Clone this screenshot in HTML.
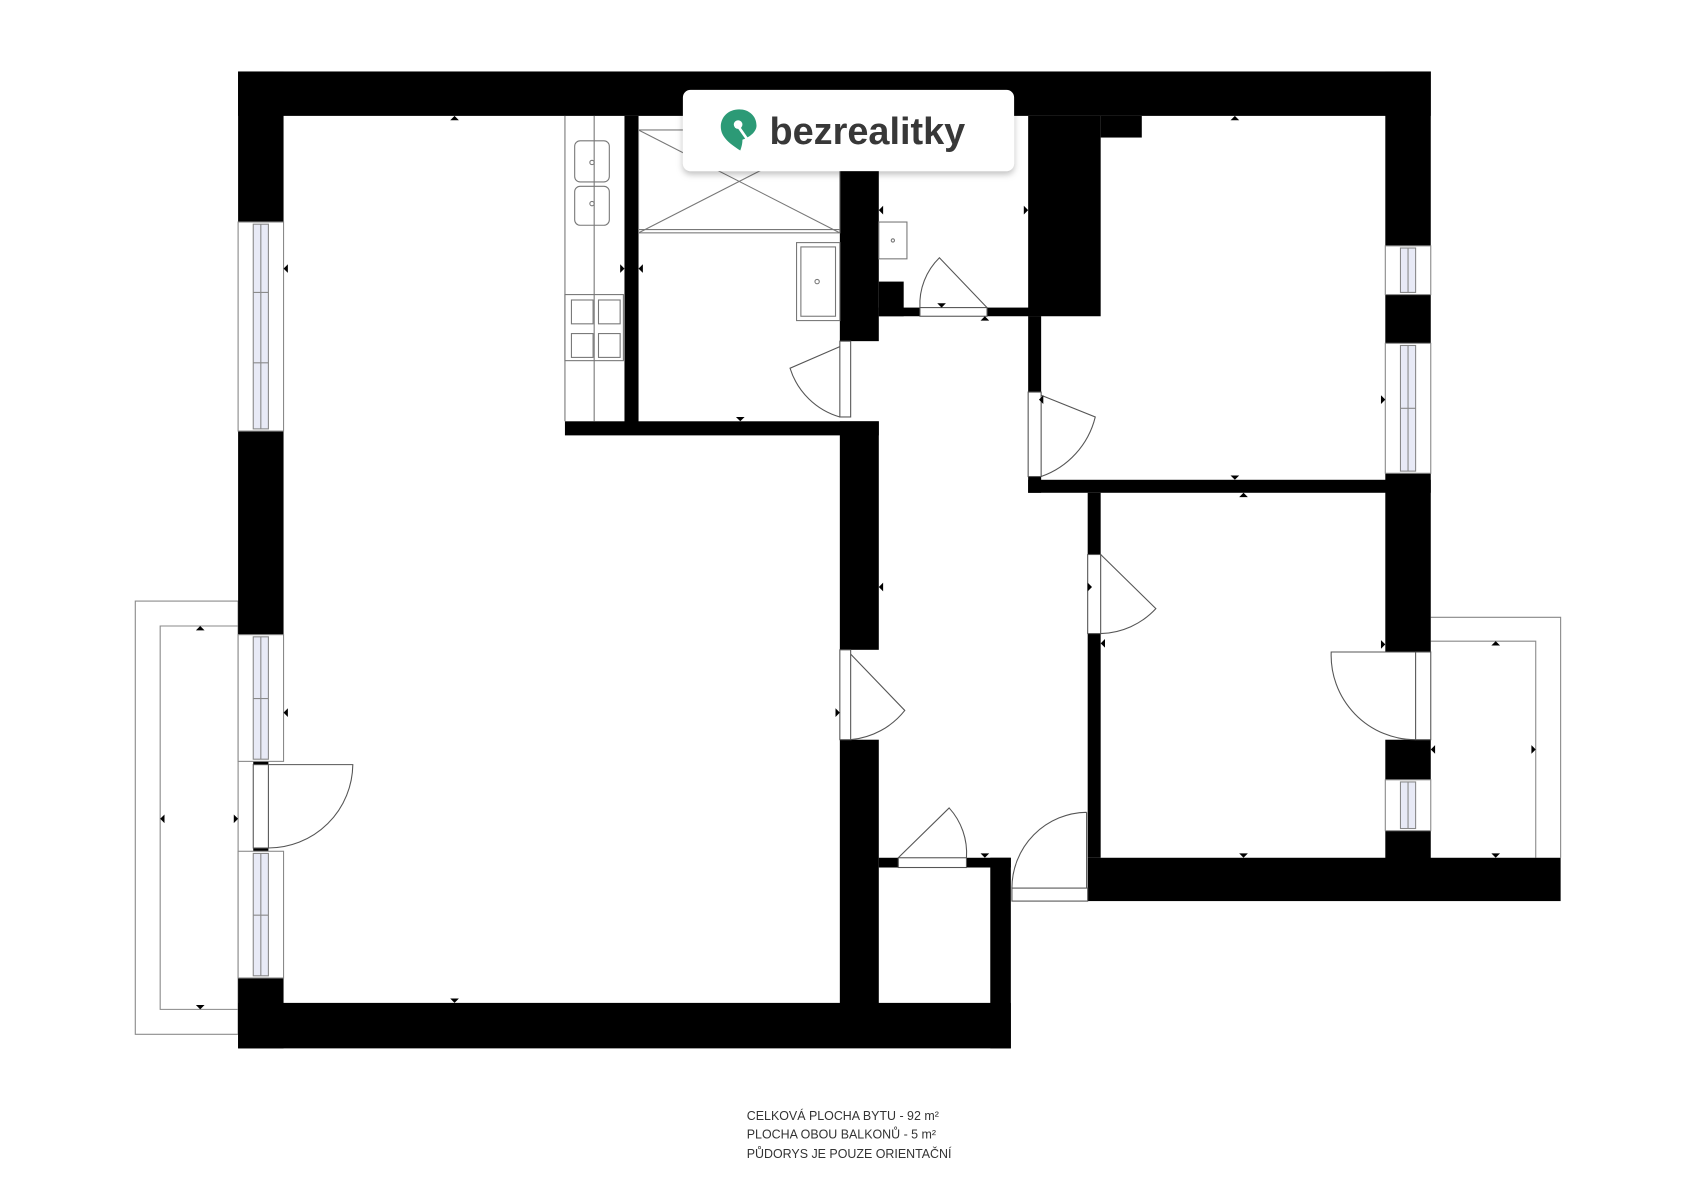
<!DOCTYPE html>
<html><head><meta charset="utf-8"><style>
html,body{margin:0;padding:0;background:#fff;width:1697px;height:1200px;overflow:hidden}
svg{display:block}
</style></head><body>
<svg width="1697" height="1200" viewBox="0 0 1568 1108" preserveAspectRatio="none" xmlns="http://www.w3.org/2000/svg">
<defs>
<filter id="sh" x="-10%" y="-20%" width="120%" height="160%"><feDropShadow dx="0" dy="3" stdDeviation="3" flood-color="#000" flood-opacity="0.25"/></filter>
</defs>
<rect width="1568" height="1108" fill="#fff"/>
<g fill="none" stroke="#888" stroke-width="1">
<rect x="125" y="555" width="95" height="400"/>
<polyline points="220,578 148,578 148,932 220,932"/>
<polyline points="1322,570 1442,570 1442,792"/>
<polyline points="1322,592 1419,592 1419,792"/>
</g>
<g fill="#000">
<rect x="220" y="66" width="1102" height="41"/>
<rect x="220" y="66" width="42" height="139"/>
<rect x="220" y="398" width="42" height="188"/>
<rect x="220" y="903" width="42" height="65"/>
<rect x="234" y="700" width="14" height="6"/>
<rect x="234" y="783" width="14" height="5"/>
<rect x="220" y="926" width="714" height="42"/>
<rect x="522" y="389" width="290" height="13"/>
<rect x="577" y="107" width="13" height="290"/>
<rect x="776" y="389" width="36" height="211"/>
<rect x="776" y="683" width="36" height="250"/>
<rect x="812" y="792" width="18" height="9"/>
<rect x="893" y="792" width="41" height="9"/>
<rect x="915" y="792" width="19" height="176"/>
<rect x="776" y="107" width="36" height="208"/>
<rect x="812" y="260" width="23" height="32"/>
<rect x="812" y="284" width="38" height="8"/>
<rect x="912" y="284" width="50" height="8"/>
<rect x="950" y="107" width="67" height="185"/>
<rect x="1017" y="107" width="38" height="20"/>
<rect x="950" y="292" width="12" height="70"/>
<rect x="950" y="440" width="12" height="15"/>
<rect x="950" y="443" width="372" height="12"/>
<rect x="1005" y="455" width="12" height="57"/>
<rect x="1005" y="585" width="12" height="207"/>
<rect x="1005" y="792" width="437" height="40"/>
<rect x="1280" y="66" width="42" height="161"/>
<rect x="1280" y="272" width="42" height="45"/>
<rect x="1280" y="437" width="42" height="165"/>
<rect x="1280" y="683" width="42" height="37"/>
<rect x="1280" y="767" width="42" height="30"/>
</g>
<g stroke="#888" stroke-width="1">
<rect x="220" y="205" width="42" height="193" fill="#fff"/>
<rect x="234" y="207" width="14" height="189" fill="#e8eaf6"/>
<rect x="220" y="586" width="42" height="117" fill="#fff"/>
<rect x="234" y="588" width="14" height="113" fill="#e8eaf6"/>
<rect x="220" y="786" width="42" height="117" fill="#fff"/>
<rect x="234" y="788" width="14" height="113" fill="#e8eaf6"/>
<rect x="1280" y="227" width="42" height="45" fill="#fff"/>
<rect x="1294" y="229" width="14" height="41" fill="#e8eaf6"/>
<rect x="1280" y="317" width="42" height="120" fill="#fff"/>
<rect x="1294" y="319" width="14" height="116" fill="#e8eaf6"/>
<rect x="1280" y="720" width="42" height="47" fill="#fff"/>
<rect x="1294" y="722" width="14" height="43" fill="#e8eaf6"/>
<line x1="241" y1="207" x2="241" y2="396"/><line x1="241" y1="588" x2="241" y2="701"/><line x1="241" y1="788" x2="241" y2="901"/>
<line x1="1301" y1="229" x2="1301" y2="270"/><line x1="1301" y1="319" x2="1301" y2="435"/><line x1="1301" y1="722" x2="1301" y2="765"/>
<line x1="234" y1="270" x2="248" y2="270"/><line x1="234" y1="335" x2="248" y2="335"/><line x1="234" y1="645" x2="248" y2="645"/><line x1="234" y1="845" x2="248" y2="845"/><line x1="1294" y1="377" x2="1308" y2="377"/>
</g>
<g fill="none" stroke="#555" stroke-width="1">
<rect x="234" y="706" width="14" height="77"/>
<path d="M248,706 L326,706 A78,78 0 0 1 248,783"/>
<rect x="776" y="600" width="10" height="83"/>
<path d="M786,604 L836,656 A72,72 0 0 1 786,683"/>
<rect x="776" y="315" width="10" height="70"/>
<path d="M776,320 L730,340 A68,68 0 0 0 776,385"/>
<rect x="830" y="792" width="63" height="9"/>
<path d="M830,792 L877,746 A62,62 0 0 1 893,792"/>
<rect x="850" y="284" width="62" height="8"/>
<path d="M912,284 L868,238 A60,60 0 0 0 850,284"/>
<rect x="950" y="362" width="12" height="78"/>
<path d="M962,365 L1012,385 A78,78 0 0 1 962,440"/>
<rect x="1005" y="512" width="12" height="73"/>
<path d="M1017,512 L1068,562 A72,72 0 0 1 1017,585"/>
<rect x="935" y="820" width="70" height="12"/>
<path d="M1004,750 L1004,820 M935,820 A70,70 0 0 1 1004,750"/>
<rect x="1308" y="602" width="14" height="81"/>
<path d="M1308,602 L1230,602 A78,78 0 0 0 1308,683"/>
</g>
<g fill="none" stroke="#777" stroke-width="1">
<line x1="522" y1="107" x2="522" y2="389"/>
<line x1="549" y1="107" x2="549" y2="389"/>
<rect x="531" y="130" width="32" height="38" rx="5"/>
<rect x="531" y="172" width="32" height="36" rx="5"/>
<circle cx="547" cy="150" r="2"/><circle cx="547" cy="188" r="2"/>
<rect x="522" y="272" width="54" height="61"/>
<rect x="528" y="277" width="20" height="22"/><rect x="528" y="308" width="20" height="22"/>
<rect x="553" y="277" width="20" height="22"/><rect x="553" y="308" width="20" height="22"/>
<rect x="590" y="120" width="186" height="95"/>
<line x1="590" y1="120" x2="776" y2="215"/><line x1="590" y1="215" x2="776" y2="120"/>
<line x1="590" y1="212" x2="776" y2="212"/>
<rect x="736" y="224" width="40" height="72"/>
<rect x="740" y="228" width="32" height="64"/>
<circle cx="755" cy="260" r="2"/>
<rect x="812" y="205" width="26" height="34"/>
<circle cx="825" cy="222" r="1.5"/>
</g>
<g fill="#000">
<path d="M416,111 l4,-4 l4,4z"/><path d="M416,922 l4,4 l4,-4z"/>
<path d="M266,244 l-4,4 l4,4z"/><path d="M266,654 l-4,4 l4,4z"/>
<path d="M680,385 l4,4 l4,-4z"/><path d="M1137,111 l4,-4 l4,4z"/>
<path d="M1137,439 l4,4 l4,-4z"/><path d="M1145,459 l4,-4 l4,4z"/>
<path d="M1145,788 l4,4 l4,-4z"/><path d="M1276,365 l4,4 l-4,4z"/>
<path d="M1276,591 l4,4 l-4,4z"/><path d="M816,538 l-4,4 l4,4z"/>
<path d="M772,654 l4,4 l-4,4z"/><path d="M1005,538 l4,4 l-4,4z"/>
<path d="M1021,590 l-4,4 l4,4z"/><path d="M964,365 l-4,4 l4,4z"/>
<path d="M906,296 l4,-4 l4,4z"/><path d="M866,280 l4,4 l4,-4z"/>
<path d="M906,788 l4,4 l4,-4z"/><path d="M946,190 l4,4 l-4,4z"/>
<path d="M816,190 l-4,4 l4,4z"/><path d="M573,244 l4,4 l-4,4z"/>
<path d="M594,244 l-4,4 l4,4z"/><path d="M1378,596 l4,-4 l4,4z"/>
<path d="M1378,788 l4,4 l4,-4z"/><path d="M1326,688 l-4,4 l4,4z"/>
<path d="M1415,688 l4,4 l-4,4z"/><path d="M181,582 l4,-4 l4,4z"/>
<path d="M181,928 l4,4 l4,-4z"/><path d="M152,752 l-4,4 l4,4z"/>
<path d="M216,752 l4,4 l-4,4z"/>
</g>
<rect x="631" y="83" width="306" height="75" rx="7" fill="#fff" filter="url(#sh)"/>
<path d="M683,101 c-10,0 -17,7 -17,16 c0,10 9,16 18,22 c1,-3 2,-6 2,-10 c6,-2 13,-7 13,-13 c0,-9 -7,-15 -16,-15z" fill="#2c9a76"/>
<circle cx="682" cy="115" r="4" fill="#fff"/>
<line x1="683" y1="118" x2="690" y2="128" stroke="#fff" stroke-width="2.5"/>
<text x="711" y="133" font-family="Liberation Sans, sans-serif" font-weight="bold" font-size="35" fill="#383838">bezrealitky</text>
<g font-family="Liberation Sans, sans-serif" font-size="11.5" fill="#333">
<text x="690" y="1034">CELKOVÁ PLOCHA BYTU - 92 m²</text>
<text x="690" y="1051">PLOCHA OBOU BALKONŮ - 5 m²</text>
<text x="690" y="1069">PŮDORYS JE POUZE ORIENTAČNÍ</text>
</g>
</svg>
</body></html>
